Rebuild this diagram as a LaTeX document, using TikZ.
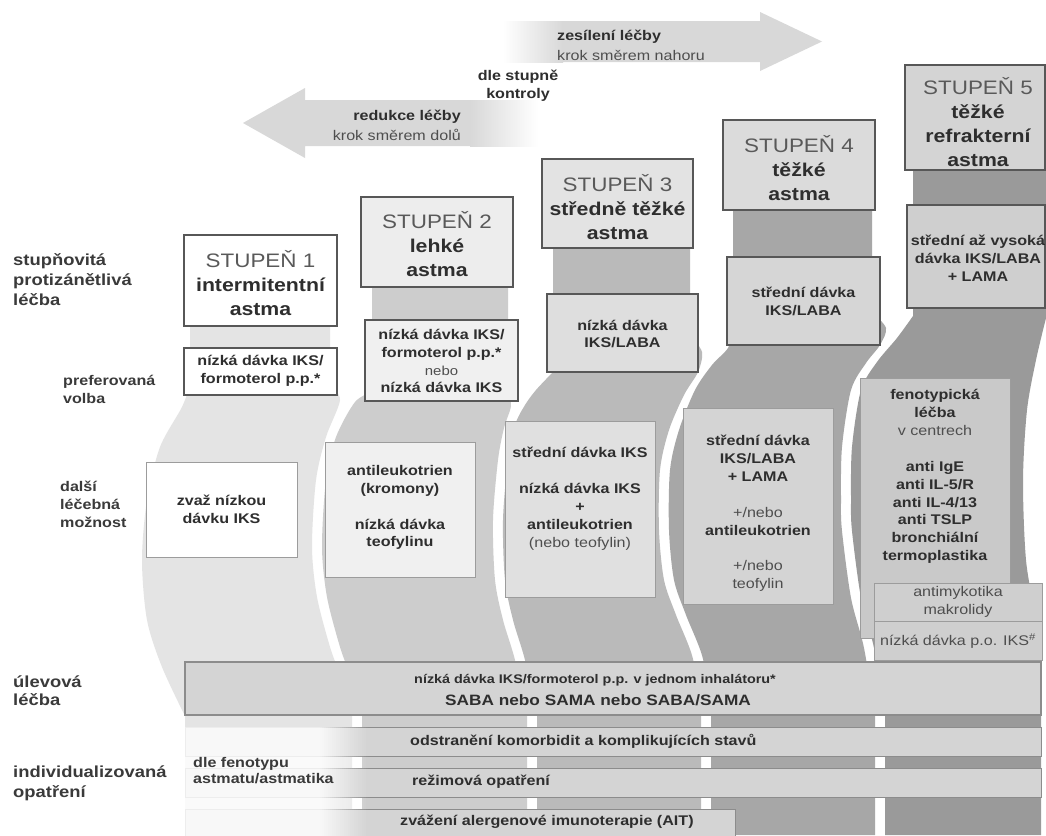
\documentclass[tikz,border=0pt]{standalone}
\usepackage{fontspec}
\setmainfont{Liberation Sans}[FakeStretch=1.15]
\definecolor{bandA}{HTML}{E4E4E4}
\definecolor{bandB}{HTML}{CDCDCD}
\definecolor{bandC}{HTML}{BABABA}
\definecolor{bandD}{HTML}{A7A7A7}
\definecolor{bandE}{HTML}{9A9A9A}
\definecolor{boxline}{HTML}{575757}
\definecolor{thinline}{HTML}{9C9C9C}
\definecolor{txtdark}{HTML}{2E2E2E}
\definecolor{txtreg}{HTML}{4E4E4E}
\definecolor{txttitle}{HTML}{595959}
\definecolor{txtlab}{HTML}{3A3A3A}
\definecolor{arrowgray}{HTML}{D8D8D8}
\definecolor{barfill}{HTML}{D4D4D4}
\definecolor{barline}{HTML}{8C8C8C}
\begin{document}
\begin{tikzpicture}[x=1pt,y=-1pt,
  frame/.style={anchor=north west, inner sep=0pt, outer sep=0pt},
  stepframe/.style={frame, draw=boxline, line width=2.6pt},
  thinframe/.style={frame, draw=thinline, line width=1pt},
  barframe/.style={frame, draw=barline, line width=1pt, fill=barfill},
  bigtxt/.style={font=\fontsize{18.5}{24}\selectfont\bfseries, align=center, text=txtdark, inner sep=0pt},
  smtxt/.style={font=\fontsize{14}{17.9}\selectfont\bfseries, align=center, text=txtdark, inner sep=0pt},
  regtxt/.style={font=\fontsize{14}{17.9}\selectfont, align=center, text=txtreg, inner sep=0pt},
  labtxt/.style={font=\fontsize{16}{20}\selectfont\bfseries, align=left, text=txtlab, anchor=west, inner sep=0pt},
  sublabtxt/.style={font=\fontsize{14}{18}\selectfont\bfseries, align=left, text=txtlab, anchor=west, inner sep=0pt}
]
\useasboundingbox (0,0) rectangle (1046,835);
\fill[white] (0,0) rectangle (1046,835);

% ---------- top arrows ----------
\shade[left color=white, right color=arrowgray] (503,21) rectangle (563,62);
\fill[arrowgray] (562,21) -- (760,21) -- (760,12) -- (822,41.5) -- (760,71) -- (760,62) -- (562,62) -- cycle;
\fill[arrowgray] (471,100) -- (305,100) -- (305,88) -- (243,123) -- (305,158) -- (305,146) -- (471,146) -- cycle;
\shade[left color=arrowgray, right color=white] (470,100) rectangle (538,146);

% ---------- bands ----------
\fill[bandA] (190,320) -- (330,320) -- plot[smooth] coordinates {(330,385) (340,400) (326,437) (316,480) (312,547) (317,597) (330,647) (340,675) (352,716)} -- (352,835) -- (185,835) -- plot[smooth] coordinates {(185,716) (162,667) (147,620) (142,560) (147,500) (160,447) (182,407) (190,385)} -- cycle;
\fill[bandB] (372,280) -- (508,280) -- plot[smooth] coordinates {(508,392) (511,406) (504,428) (498,460) (493,520) (495,580) (503,620) (515,660) (527,716)} -- (527,835) -- (362,835) -- plot[smooth] coordinates {(362,716) (350,675) (340,647) (327,597) (322,547) (326,480) (336,437) (355,402) (372,392)} -- cycle;
\fill[bandC] (553,240) -- (690,240) -- plot[smooth] coordinates {(690,335) (702,352) (698,372) (684,395) (669,430) (660,470) (659,530) (664,580) (676,615) (693,659) (701,716)} -- (701,835) -- (537,835) -- plot[smooth] coordinates {(537,716) (525,660) (513,620) (505,580) (503,520) (508,460) (515,425) (525,405) (536,390) (553,372)} -- cycle;
\fill[bandD] (733,200) -- (872,200) -- plot[smooth] coordinates {(872,312) (886,328) (880,345) (866,363) (851,390) (842,447) (841,500) (842,531) (851,598) (864,648) (875,716)} -- (875,835) -- (711,835) -- plot[smooth] coordinates {(711,716) (703,659) (686,615) (674,580) (669,530) (670,470) (679,430) (695,390) (712,365) (728,348) (733,330)} -- cycle;
\fill[bandE] (913,165) -- (1046,165) -- plot[smooth] coordinates {(1046,318) (1036,360) (1027,410) (1023,480) (1026,560) (1036,620) (1041,660)} -- (1041,835) -- (885,835) -- plot[smooth] coordinates {(885,716) (874,648) (861,598) (852,531) (851,500) (852,447) (861,390) (877,362) (897,338) (913,316)} -- (913,300) -- cycle;

% ---------- step boxes ----------
\node[stepframe, fill=white,    minimum width=153pt, minimum height=91pt]  (s1) at (184,235) {};
\node[stepframe, fill=black!7,  minimum width=152pt, minimum height=90pt]  (s2) at (361,197) {};
\node[stepframe, fill=black!11, minimum width=151pt, minimum height=89pt]  (s3) at (542,159) {};
\node[stepframe, fill=black!14, minimum width=152pt, minimum height=90pt]  (s4) at (723,120) {};
\node[stepframe, fill=black!17, minimum width=140pt, minimum height=105pt] (s5) at (905,65) {};

% ---------- preferred boxes ----------
\node[stepframe, fill=white,    minimum width=153pt, minimum height=47pt]  (p1) at (184,348) {};
\node[stepframe, fill=black!6,  minimum width=153pt, minimum height=81pt]  (p2) at (365,320) {};
\node[stepframe, fill=black!13, minimum width=151pt, minimum height=78pt]  (p3) at (547,294) {};
\node[stepframe, fill=black!16, minimum width=153pt, minimum height=88pt]  (p4) at (727,257) {};
\node[stepframe, fill=black!19, minimum width=138pt, minimum height=103pt] (p5) at (907,205) {};

% ---------- other options boxes ----------
\node[thinframe, fill=white,    minimum width=151pt, minimum height=95pt]  (n1) at (146,462) {};
\node[thinframe, fill=black!6,  minimum width=150pt, minimum height=135pt] (n2) at (325,442) {};
\node[thinframe, fill=black!12, minimum width=150pt, minimum height=176pt] (n3) at (505,421) {};
\node[thinframe, fill=black!17, minimum width=150pt, minimum height=196pt] (n4) at (683,408) {};
\node[thinframe, fill=black!21, minimum width=150pt, minimum height=260pt] (n5) at (860,378) {};
\node[thinframe, fill=black!19, minimum width=168pt, minimum height=38pt]  (q1) at (874,583) {};
\node[thinframe, fill=black!19, minimum width=168pt, minimum height=39pt]  (q2) at (874,621) {};

% ---------- bottom bars ----------
\node[barframe, line width=1.5pt, minimum width=856pt, minimum height=53pt] (rel) at (185,662) {};
\node[barframe, minimum width=856pt, minimum height=29pt] (b1) at (185,727) {};
\node[barframe, minimum width=856pt, minimum height=29pt] (b2) at (185,768) {};
\node[barframe, minimum width=550pt, minimum height=30pt] (b3) at (185,809) {};

% fade of the lower left part
\fill[white, fill opacity=0.85] (184,727) rectangle (320,836);
\foreach \i in {0,...,23}{
  \pgfmathsetmacro\opv{0.85*(1-(\i+0.5)/24)}
  \fill[white, fill opacity=\opv] ({320+2*\i},727) rectangle ({322+2*\i},836);
}

% ---------- texts: arrows ----------
\node[smtxt, anchor=west] (upa) at (557,37) {zesílení léčby};
\node[regtxt, anchor=west] (upb) at (557,55) {krok směrem nahoru};
\node[smtxt] (ctl) at (518,86) {dle stupně\\kontroly};
\node[smtxt, anchor=east] (dna) at (461,117) {redukce léčby};
\node[regtxt, anchor=east] (dnb) at (461,135) {krok směrem dolů};

% ---------- texts: left labels ----------
\node[labtxt] (lab1) at (13,280) {stupňovitá\\protizánětlivá\\léčba};
\node[sublabtxt] (lab2) at (63,389) {preferovaná\\volba};
\node[sublabtxt] (lab3) at (60,504) {další\\léčebná\\možnost};
\node[labtxt, font=\fontsize{16}{18}\selectfont\bfseries] (lab4) at (13,691) {úlevová\\léčba};
\node[labtxt] (lab5) at (13,783) {individualizovaná\\opatření};
\node[sublabtxt, font=\fontsize{14}{16}\selectfont\bfseries] (lab6) at (193,771) {dle fenotypu\\astmatu/astmatika};

% ---------- texts: steps ----------
\node[bigtxt] (s1t) at (260.5,283) {{\fontsize{19.5}{24}\selectfont\mdseries\color{txttitle}STUPEŇ 1}\\intermitentní\\astma};
\node[bigtxt] (s2t) at (437,244) {{\fontsize{19.5}{24}\selectfont\mdseries\color{txttitle}STUPEŇ 2}\\lehké\\astma};
\node[bigtxt] (s3t) at (617.5,207) {{\fontsize{19.5}{24}\selectfont\mdseries\color{txttitle}STUPEŇ 3}\\středně těžké\\astma};
\node[bigtxt] (s4t) at (799,168) {{\fontsize{19.5}{24}\selectfont\mdseries\color{txttitle}STUPEŇ 4}\\těžké\\astma};
\node[bigtxt] (s5t) at (978,122) {{\fontsize{19.5}{24}\selectfont\mdseries\color{txttitle}STUPEŇ 5}\\těžké\\refrakterní\\astma};

% ---------- texts: preferred ----------
\node[smtxt] (p1t) at (260.5,371) {nízká dávka IKS/\\formoterol p.p.*};
\node[smtxt] (p2t) at (441.5,361) {nízká dávka IKS/\\formoterol p.p.*\\{\mdseries\fontsize{13}{17.9}\selectfont\color{txtreg}nebo}\\nízká dávka IKS};
\node[smtxt] (p3t) at (622.5,334) {nízká dávka\\IKS/LABA};
\node[smtxt] (p4t) at (803.5,301.5) {střední dávka\\IKS/LABA};
\node[smtxt] (p5t) at (978,258) {střední až vysoká\\dávka IKS/LABA\\+ LAMA};

% ---------- texts: other options ----------
\node[smtxt] (n1t) at (221.5,509) {zvaž nízkou\\dávku IKS};
\node[smtxt] (n2t) at (400,507.5) {antileukotrien\\(kromony)\\[17.9pt]nízká dávka\\teofylinu};
\node[smtxt] (n3t) at (580,498.5) {střední dávka IKS\\[17.9pt]nízká dávka IKS\\+\\antileukotrien\\{\mdseries\color{txtreg}(nebo teofylin)}};
\node[smtxt] (n4t) at (758,513.5) {střední dávka\\IKS/LABA\\+ LAMA\\[17.9pt]{\mdseries\color{txtreg}+/nebo}\\antileukotrien\\[17.9pt]{\mdseries\color{txtreg}+/nebo}\\{\mdseries\color{txtreg}teofylin}};
\node[smtxt] (n5t) at (935,476.5) {fenotypická\\léčba\\{\mdseries\color{txtreg}v centrech}\\[17.9pt]anti IgE\\anti IL-5/R\\anti IL-4/13\\anti TSLP\\bronchiální\\termoplastika};
\node[regtxt] (q1t) at (958,601.5) {antimykotika\\makrolidy};
\node[regtxt] (q2t) at (958,641) {nízká dávka p.o. IKS\textsuperscript{\#}};

% ---------- texts: bottom ----------
\node[smtxt, font=\fontsize{12.5}{15}\selectfont\bfseries] (rel1) at (595,680) {nízká dávka IKS/formoterol p.p. v jednom inhalátoru*};
\node[smtxt, font=\fontsize{15}{18}\selectfont\bfseries] (rel2) at (598,700) {SABA nebo SAMA nebo SABA/SAMA};
\node[smtxt, anchor=west] (im1) at (410,741) {odstranění komorbidit a komplikujících stavů};
\node[smtxt, anchor=west] (im2) at (412,782) {režimová opatření};
\node[smtxt, anchor=west] (im3) at (400,822) {zvážení alergenové imunoterapie (AIT)};
\end{tikzpicture}
\end{document}
